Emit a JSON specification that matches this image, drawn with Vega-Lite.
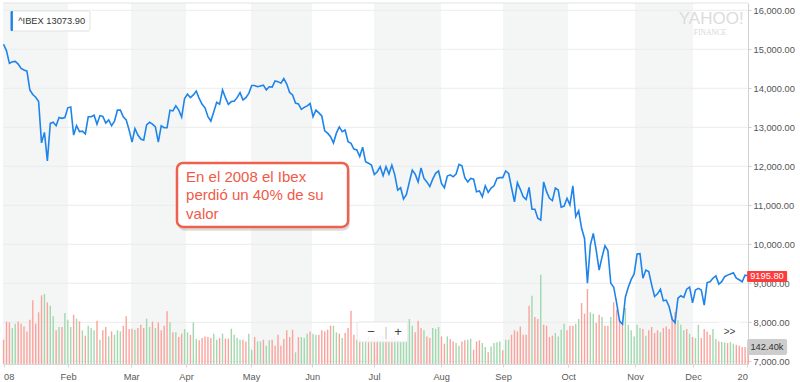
{
"$schema": "https://vega.github.io/schema/vega-lite/v6.json",
"width": 745, "height": 361,
"autosize": {"type": "none"},
"padding": {"left": 3, "top": 3, "right": 52, "bottom": 18},
"background": "white",
"config": {"view": {"stroke": null}, "font": "Liberation Sans"},
"resolve": {"scale": {"y": "independent", "color": "independent"}, "axis": {"y": "independent"}},
"datasets": {
"months": [{"m":"Jan","a":-0.2,"b":22.1},{"m":"Mar","a":43.7,"b":62.5},{"m":"May","a":84.8,"b":105.7},{"m":"Jul","a":126.9,"b":149.9},{"m":"Sep","a":171.1,"b":193.4},{"m":"Nov","a":216.3,"b":236.2}],
"grid": [{"g":7000},{"g":8000},{"g":9000},{"g":10000},{"g":11000},{"g":12000},{"g":13000},{"g":14000},{"g":15000},{"g":16000}],
"ibex": [
{"d":0,"c":15130,"v":204,"s":"d"},{"d":1,"c":14960,"v":356,"s":"d"},{"d":2,"c":14640,"v":350,"s":"d"},{"d":3,"c":14680,"v":302,"s":"u"},{"d":4,"c":14690,"v":339,"s":"u"},{"d":5,"c":14620,"v":356,"s":"d"},{"d":6,"c":14510,"v":339,"s":"d"},{"d":7,"c":14470,"v":316,"s":"d"},{"d":8,"c":14440,"v":274,"s":"d"},{"d":9,"c":13960,"v":372,"s":"d"},
{"d":10,"c":13840,"v":535,"s":"d"},{"d":11,"c":13770,"v":339,"s":"d"},{"d":12,"c":13660,"v":434,"s":"d"},{"d":13,"c":12600,"v":577,"s":"d"},{"d":14,"c":12870,"v":588,"s":"u"},{"d":15,"c":12140,"v":518,"s":"d"},{"d":16,"c":13100,"v":490,"s":"u"},{"d":17,"c":13130,"v":400,"s":"u"},{"d":18,"c":13040,"v":283,"s":"d"},{"d":19,"c":13250,"v":311,"s":"u"},
{"d":20,"c":13230,"v":311,"s":"d"},{"d":21,"c":13250,"v":428,"s":"u"},{"d":22,"c":13500,"v":372,"s":"u"},{"d":23,"c":13520,"v":311,"s":"u"},{"d":24,"c":12800,"v":414,"s":"d"},{"d":25,"c":13040,"v":381,"s":"u"},{"d":26,"c":12890,"v":358,"s":"d"},{"d":27,"c":12900,"v":283,"s":"u"},{"d":28,"c":12830,"v":238,"s":"d"},{"d":29,"c":13270,"v":322,"s":"u"},
{"d":30,"c":13270,"v":302,"s":"u"},{"d":31,"c":13310,"v":283,"s":"u"},{"d":32,"c":13080,"v":364,"s":"d"},{"d":33,"c":13300,"v":204,"s":"u"},{"d":34,"c":13280,"v":283,"s":"d"},{"d":35,"c":13110,"v":311,"s":"d"},{"d":36,"c":13190,"v":232,"s":"u"},{"d":37,"c":13040,"v":274,"s":"d"},{"d":38,"c":13160,"v":246,"s":"u"},{"d":39,"c":13440,"v":283,"s":"u"},
{"d":40,"c":13440,"v":274,"s":"u"},{"d":41,"c":13270,"v":322,"s":"d"},{"d":42,"c":13190,"v":400,"s":"d"},{"d":43,"c":12930,"v":294,"s":"d"},{"d":44,"c":12620,"v":297,"s":"d"},{"d":45,"c":12970,"v":288,"s":"u"},{"d":46,"c":12800,"v":302,"s":"d"},{"d":47,"c":12700,"v":330,"s":"d"},{"d":48,"c":12670,"v":302,"s":"d"},{"d":49,"c":13060,"v":381,"s":"u"},
{"d":50,"c":13130,"v":311,"s":"u"},{"d":51,"c":13080,"v":356,"s":"d"},{"d":52,"c":13010,"v":302,"s":"u"},{"d":53,"c":12620,"v":350,"s":"d"},{"d":54,"c":13040,"v":283,"s":"d"},{"d":55,"c":12990,"v":322,"s":"d"},{"d":56,"c":12990,"v":442,"s":"d"},{"d":57,"c":13440,"v":350,"s":"u"},{"d":58,"c":13420,"v":266,"s":"d"},{"d":59,"c":13550,"v":266,"s":"u"},
{"d":60,"c":13440,"v":227,"s":"d"},{"d":61,"c":13260,"v":255,"s":"d"},{"d":62,"c":13740,"v":294,"s":"u"},{"d":63,"c":13850,"v":266,"s":"u"},{"d":64,"c":13760,"v":246,"s":"d"},{"d":65,"c":13830,"v":350,"s":"u"},{"d":66,"c":13930,"v":210,"s":"u"},{"d":67,"c":13740,"v":199,"s":"d"},{"d":68,"c":13590,"v":218,"s":"d"},{"d":69,"c":13500,"v":232,"s":"d"},
{"d":70,"c":13270,"v":227,"s":"d"},{"d":71,"c":13160,"v":218,"s":"d"},{"d":72,"c":13400,"v":255,"s":"u"},{"d":73,"c":13640,"v":204,"s":"u"},{"d":74,"c":13590,"v":218,"s":"d"},{"d":75,"c":13960,"v":255,"s":"u"},{"d":76,"c":13760,"v":213,"s":"d"},{"d":77,"c":13590,"v":213,"s":"d"},{"d":78,"c":13660,"v":297,"s":"u"},{"d":79,"c":13670,"v":246,"s":"u"},
{"d":80,"c":13760,"v":218,"s":"u"},{"d":81,"c":13890,"v":204,"s":"u"},{"d":82,"c":13700,"v":204,"s":"d"},{"d":83,"c":13760,"v":190,"s":"d"},{"d":84,"c":13870,"v":255,"s":"u"},{"d":85,"c":14070,"v":120,"s":"u"},{"d":86,"c":14070,"v":227,"s":"d"},{"d":87,"c":14040,"v":190,"s":"u"},{"d":88,"c":14060,"v":190,"s":"u"},{"d":89,"c":14080,"v":204,"s":"d"},
{"d":90,"c":13960,"v":154,"s":"u"},{"d":91,"c":14040,"v":199,"s":"u"},{"d":92,"c":14030,"v":204,"s":"d"},{"d":93,"c":14190,"v":154,"s":"d"},{"d":94,"c":14170,"v":246,"s":"d"},{"d":95,"c":14130,"v":154,"s":"d"},{"d":96,"c":14250,"v":210,"s":"d"},{"d":97,"c":14110,"v":283,"s":"d"},{"d":98,"c":13890,"v":227,"s":"d"},{"d":99,"c":13830,"v":288,"s":"d"},
{"d":100,"c":13620,"v":98,"s":"u"},{"d":101,"c":13600,"v":227,"s":"d"},{"d":102,"c":13460,"v":227,"s":"u"},{"d":103,"c":13510,"v":218,"s":"u"},{"d":104,"c":13550,"v":255,"s":"u"},{"d":105,"c":13610,"v":274,"s":"d"},{"d":106,"c":13270,"v":255,"s":"u"},{"d":107,"c":13440,"v":246,"s":"u"},{"d":108,"c":13370,"v":246,"s":"d"},{"d":109,"c":13290,"v":283,"s":"d"},
{"d":110,"c":12910,"v":274,"s":"d"},{"d":111,"c":12850,"v":288,"s":"d"},{"d":112,"c":12760,"v":322,"s":"d"},{"d":113,"c":12600,"v":322,"s":"u"},{"d":114,"c":12850,"v":266,"s":"u"},{"d":115,"c":13010,"v":255,"s":"d"},{"d":116,"c":12890,"v":218,"s":"u"},{"d":117,"c":12930,"v":260,"s":"d"},{"d":118,"c":12630,"v":302,"s":"d"},{"d":119,"c":12590,"v":448,"s":"d"},
{"d":120,"c":12440,"v":246,"s":"d"},{"d":121,"c":12420,"v":204,"s":"u"},{"d":122,"c":12250,"v":218,"s":"d"},{"d":123,"c":12490,"v":190,"s":"u"},{"d":124,"c":12120,"v":210,"s":"u"},{"d":125,"c":12080,"v":232,"s":"d"},{"d":126,"c":12030,"v":199,"s":"u"},{"d":127,"c":11790,"v":216,"s":"d"},{"d":128,"c":11860,"v":227,"s":"d"},{"d":129,"c":11990,"v":204,"s":"u"},
{"d":130,"c":11760,"v":238,"s":"u"},{"d":131,"c":11990,"v":216,"s":"d"},{"d":132,"c":11800,"v":204,"s":"u"},{"d":133,"c":12030,"v":221,"s":"d"},{"d":134,"c":11780,"v":232,"s":"u"},{"d":135,"c":11390,"v":210,"s":"u"},{"d":136,"c":11450,"v":190,"s":"u"},{"d":137,"c":11160,"v":190,"s":"u"},{"d":138,"c":11280,"v":190,"s":"u"},{"d":139,"c":11600,"v":378,"s":"u"},
{"d":140,"c":11900,"v":322,"s":"u"},{"d":141,"c":11800,"v":266,"s":"d"},{"d":142,"c":11600,"v":364,"s":"d"},{"d":143,"c":11960,"v":302,"s":"d"},{"d":144,"c":11690,"v":283,"s":"u"},{"d":145,"c":11600,"v":232,"s":"d"},{"d":146,"c":11480,"v":218,"s":"d"},{"d":147,"c":11670,"v":302,"s":"u"},{"d":148,"c":11820,"v":294,"s":"u"},{"d":149,"c":11880,"v":311,"s":"u"},
{"d":150,"c":11560,"v":232,"s":"d"},{"d":151,"c":11450,"v":171,"s":"d"},{"d":152,"c":11750,"v":232,"s":"u"},{"d":153,"c":11780,"v":210,"s":"d"},{"d":154,"c":11730,"v":190,"s":"d"},{"d":155,"c":11800,"v":176,"s":"u"},{"d":156,"c":12050,"v":154,"s":"u"},{"d":157,"c":12010,"v":190,"s":"d"},{"d":158,"c":11710,"v":199,"s":"d"},{"d":159,"c":11600,"v":204,"s":"u"},
{"d":160,"c":11690,"v":213,"s":"u"},{"d":161,"c":11670,"v":120,"s":"d"},{"d":162,"c":11350,"v":190,"s":"d"},{"d":163,"c":11370,"v":199,"s":"d"},{"d":164,"c":11220,"v":176,"s":"u"},{"d":165,"c":11500,"v":143,"s":"u"},{"d":166,"c":11330,"v":98,"s":"d"},{"d":167,"c":11440,"v":148,"s":"u"},{"d":168,"c":11500,"v":176,"s":"u"},{"d":169,"c":11690,"v":182,"s":"u"},
{"d":170,"c":11710,"v":190,"s":"u"},{"d":171,"c":11710,"v":115,"s":"d"},{"d":172,"c":11880,"v":204,"s":"u"},{"d":173,"c":11820,"v":204,"s":"u"},{"d":174,"c":11450,"v":246,"s":"d"},{"d":175,"c":11090,"v":283,"s":"d"},{"d":176,"c":11580,"v":274,"s":"d"},{"d":177,"c":11410,"v":316,"s":"d"},{"d":178,"c":11220,"v":246,"s":"d"},{"d":179,"c":11150,"v":246,"s":"d"},
{"d":180,"c":11460,"v":490,"s":"d"},{"d":181,"c":10900,"v":574,"s":"u"},{"d":182,"c":10900,"v":395,"s":"d"},{"d":183,"c":10670,"v":378,"s":"d"},{"d":184,"c":10620,"v":750,"s":"u"},{"d":185,"c":11600,"v":330,"s":"d"},{"d":186,"c":11350,"v":322,"s":"d"},{"d":187,"c":11180,"v":227,"s":"d"},{"d":188,"c":11120,"v":238,"s":"d"},{"d":189,"c":11440,"v":260,"s":"u"},
{"d":190,"c":11390,"v":232,"s":"u"},{"d":191,"c":10950,"v":288,"s":"u"},{"d":192,"c":10980,"v":339,"s":"u"},{"d":193,"c":11180,"v":283,"s":"d"},{"d":194,"c":11010,"v":322,"s":"d"},{"d":195,"c":11500,"v":322,"s":"d"},{"d":196,"c":10710,"v":339,"s":"u"},{"d":197,"c":10860,"v":378,"s":"u"},{"d":198,"c":10410,"v":512,"s":"d"},{"d":199,"c":10150,"v":423,"s":"d"},
{"d":200,"c":9000,"v":630,"s":"d"},{"d":201,"c":9980,"v":434,"s":"u"},{"d":202,"c":10280,"v":423,"s":"u"},{"d":203,"c":9850,"v":344,"s":"d"},{"d":204,"c":9340,"v":414,"s":"d"},{"d":205,"c":9670,"v":395,"s":"u"},{"d":206,"c":9960,"v":322,"s":"d"},{"d":207,"c":9840,"v":322,"s":"d"},{"d":208,"c":9000,"v":395,"s":"u"},{"d":209,"c":8900,"v":518,"s":"d"},
{"d":210,"c":8500,"v":456,"s":"d"},{"d":211,"c":8030,"v":378,"s":"d"},{"d":212,"c":7950,"v":344,"s":"d"},{"d":213,"c":8650,"v":470,"s":"u"},{"d":214,"c":8900,"v":330,"s":"u"},{"d":215,"c":9100,"v":283,"s":"u"},{"d":216,"c":9240,"v":232,"s":"u"},{"d":217,"c":9750,"v":330,"s":"u"},{"d":218,"c":9760,"v":302,"s":"u"},{"d":219,"c":9130,"v":294,"s":"d"},
{"d":220,"c":9340,"v":238,"s":"u"},{"d":221,"c":9300,"v":283,"s":"d"},{"d":222,"c":8960,"v":311,"s":"d"},{"d":223,"c":8660,"v":260,"s":"d"},{"d":224,"c":8730,"v":283,"s":"d"},{"d":225,"c":8850,"v":266,"s":"u"},{"d":226,"c":8550,"v":302,"s":"d"},{"d":227,"c":8570,"v":316,"s":"d"},{"d":228,"c":8400,"v":294,"s":"d"},{"d":229,"c":8080,"v":400,"s":"d"},
{"d":230,"c":7990,"v":434,"s":"d"},{"d":231,"c":8620,"v":367,"s":"u"},{"d":232,"c":8680,"v":330,"s":"u"},{"d":233,"c":8640,"v":283,"s":"u"},{"d":234,"c":8850,"v":294,"s":"d"},{"d":235,"c":8900,"v":255,"s":"u"},{"d":236,"c":8500,"v":227,"s":"d"},{"d":237,"c":8830,"v":218,"s":"u"},{"d":238,"c":8870,"v":330,"s":"u"},{"d":239,"c":8830,"v":218,"s":"d"},
{"d":240,"c":8440,"v":294,"s":"d"},{"d":241,"c":9020,"v":274,"s":"d"},{"d":242,"c":9040,"v":246,"s":"d"},{"d":243,"c":9130,"v":294,"s":"u"},{"d":244,"c":9190,"v":210,"s":"u"},{"d":245,"c":8980,"v":204,"s":"d"},{"d":246,"c":9040,"v":190,"s":"u"},{"d":247,"c":9170,"v":182,"s":"u"},{"d":248,"c":9210,"v":176,"s":"d"},{"d":249,"c":9240,"v":190,"s":"u"},
{"d":250,"c":9270,"v":171,"s":"u"},{"d":251,"c":9130,"v":162,"s":"d"},{"d":252,"c":9090,"v":154,"s":"d"},{"d":253,"c":9040,"v":143,"s":"d"},{"d":254,"c":9210,"v":143,"s":"d"},{"d":255,"c":9195.8,"v":142.4,"s":"d"}
]
},
"layer": [
{"data": {"name": "months"}, "mark": {"type": "rect", "color": "#f4f6f6"},
 "encoding": {
  "x": {"field": "a", "type": "quantitative", "scale": {"domain": [-0.2, 255], "nice": false, "zero": false}, "title": null,
   "axis": {"orient": "bottom", "values": [0, 22.1, 43.7, 62.5, 84.8, 105.7, 126.9, 149.9, 171.1, 193.4, 216.3, 236.2, 254.8],
    "labelExpr": "datum.value < 10 ? '08' : datum.value < 30 ? 'Feb' : datum.value < 50 ? 'Mar' : datum.value < 70 ? 'Apr' : datum.value < 90 ? 'May' : datum.value < 110 ? 'Jun' : datum.value < 140 ? 'Jul' : datum.value < 160 ? 'Aug' : datum.value < 180 ? 'Sep' : datum.value < 200 ? 'Oct' : datum.value < 225 ? 'Nov' : datum.value < 245 ? 'Dec' : '20'",
    "labelFlush": 12, "labelOverlap": false, "grid": false, "domainColor": "#d9d9d9", "tickColor": "#d6d6d6", "tickSize": 3, "zindex": 1,
    "labelFontSize": 9.3, "labelColor": "#5a5a5a", "labelPadding": 5}},
  "x2": {"field": "b"}}},
{"data": {"name": "grid"}, "mark": {"type": "rule", "color": "#ececec", "strokeWidth": 1},
 "encoding": {"y": {"field": "g", "type": "quantitative", "scale": {"domain": [6931, 16187], "nice": false, "zero": false}, "axis": null}}},
{"data": {"values": [{}]}, "mark": {"type": "rule", "color": "#e2e2e2", "strokeWidth": 1},
 "encoding": {"y": {"datum": 16187, "type": "quantitative", "scale": {"domain": [6931, 16187], "nice": false, "zero": false}, "axis": null}}},
{"data": {"name": "ibex"}, "mark": {"type": "rule", "strokeWidth": 1.4},
 "encoding": {
  "x": {"field": "d", "type": "quantitative", "scale": {"domain": [-0.2, 255], "nice": false, "zero": false}},
  "y": {"field": "v", "type": "quantitative", "scale": {"domain": [0, 3032], "nice": false, "zero": true}, "axis": null},
  "y2": {"datum": 0},
  "color": {"field": "s", "type": "nominal", "scale": {"domain": ["u", "d"], "range": ["#a1d8ae", "#fca29c"]}, "legend": null}}},
{"data": {"name": "ibex"}, "mark": {"type": "line", "color": "#1e84ea", "strokeWidth": 1.6},
 "encoding": {
  "x": {"field": "d", "type": "quantitative", "scale": {"domain": [-0.2, 255], "nice": false, "zero": false}},
  "y": {"field": "c", "type": "quantitative", "scale": {"domain": [6931, 16187], "nice": false, "zero": false},
   "axis": {"orient": "right", "title": null, "values": [7000, 8000, 9000, 10000, 11000, 12000, 13000, 14000, 15000, 16000], "format": ",.2f",
    "grid": false, "domainColor": "#d0d0d0", "tickColor": "#d0d0d0", "tickSize": 3, "labelPadding": 2, "labelFontSize": 9.3, "labelColor": "#555555"}}}},
{"data": {"values": [{}]}, "mark": {"type": "rect", "fill": "#9a9a9a", "opacity": 0.35, "cornerRadius": 7},
 "encoding": {
  "x": {"datum": 59.7, "type": "quantitative"},
  "x2": {"datum": 118.6},
  "y": {"datum": 12030, "type": "quantitative", "scale": {"domain": [6931, 16187], "nice": false, "zero": false}, "axis": null},
  "y2": {"datum": 10350}}},
{"data": {"values": [{}]}, "mark": {"type": "rect", "fill": "white", "stroke": "#f0604e", "strokeWidth": 2.5, "cornerRadius": 6},
 "encoding": {
  "x": {"datum": 59.4, "type": "quantitative"},
  "x2": {"datum": 118.0},
  "y": {"datum": 12085, "type": "quantitative", "scale": {"domain": [6931, 16187], "nice": false, "zero": false}, "axis": null},
  "y2": {"datum": 10444}}},
{"data": {"values": [{}]}, "mark": {"type": "text", "align": "left", "baseline": "alphabetic", "fontSize": 15, "lineHeight": 18.5, "color": "#f15a48"},
 "encoding": {
  "x": {"datum": 62.5, "type": "quantitative"},
  "y": {"datum": 11605, "type": "quantitative", "scale": {"domain": [6931, 16187], "nice": false, "zero": false}, "axis": null},
  "text": {"value": ["En el 2008 el Ibex", "perdió un 40% de su", "valor"]}}},
{"data": {"values": [{}]}, "mark": {"type": "rect", "fill": "white", "stroke": "#e0e0e0", "strokeWidth": 1, "cornerRadius": 2},
 "encoding": {
  "x": {"datum": 2.4, "type": "quantitative"},
  "x2": {"datum": 29.6},
  "y": {"datum": 15982, "type": "quantitative", "scale": {"domain": [6931, 16187], "nice": false, "zero": false}, "axis": null},
  "y2": {"datum": 15469}}},
{"data": {"values": [{}]}, "mark": {"type": "rect", "fill": "#1e84ea", "cornerRadius": 1},
 "encoding": {
  "x": {"datum": 2.4, "type": "quantitative"},
  "x2": {"datum": 3.2},
  "y": {"datum": 15982, "type": "quantitative", "scale": {"domain": [6931, 16187], "nice": false, "zero": false}, "axis": null},
  "y2": {"datum": 15469}}},
{"data": {"values": [{}]}, "mark": {"type": "text", "align": "left", "baseline": "middle", "fontSize": 9.3, "color": "#333333"},
 "encoding": {
  "x": {"datum": 5.0, "type": "quantitative"},
  "y": {"datum": 15713, "type": "quantitative", "scale": {"domain": [6931, 16187], "nice": false, "zero": false}, "axis": null},
  "text": {"value": "^IBEX  13073.90"}}},
{"data": {"values": [{}]}, "mark": {"type": "text", "align": "center", "baseline": "alphabetic", "fontSize": 17, "color": "#dcdcdc", "font": "Liberation Sans Narrow, Liberation Sans"},
 "encoding": {
  "x": {"datum": 242.4, "type": "quantitative"},
  "y": {"datum": 15650, "type": "quantitative", "scale": {"domain": [6931, 16187], "nice": false, "zero": false}, "axis": null},
  "text": {"value": "YAHOO!"}}},
{"data": {"values": [{}]}, "mark": {"type": "text", "align": "center", "baseline": "alphabetic", "fontSize": 7.5, "color": "#d6d6d6", "font": "Liberation Serif"},
 "encoding": {
  "x": {"datum": 242.0, "type": "quantitative"},
  "y": {"datum": 15370, "type": "quantitative", "scale": {"domain": [6931, 16187], "nice": false, "zero": false}, "axis": null},
  "text": {"value": "FINANCE"}}},
{"data": {"values": [{}]}, "mark": {"type": "rect", "fill": "white", "fillOpacity": 0.85, "stroke": "#e6e6e6", "strokeWidth": 1, "cornerRadius": 2},
 "encoding": {
  "x": {"datum": 121.1, "type": "quantitative"},
  "x2": {"datum": 138.5},
  "y": {"datum": 8008, "type": "quantitative", "scale": {"domain": [6931, 16187], "nice": false, "zero": false}, "axis": null},
  "y2": {"datum": 7495}}},
{"data": {"values": [{"t": "−", "p": 125.9}, {"t": "|", "p": 131.0}, {"t": "+", "p": 135.1}]}, "mark": {"type": "text", "align": "center", "baseline": "middle", "fontSize": 13},
 "encoding": {
  "x": {"field": "p", "type": "quantitative"},
  "y": {"datum": 7752, "type": "quantitative", "scale": {"domain": [6931, 16187], "nice": false, "zero": false}, "axis": null},
  "text": {"field": "t"},
  "color": {"condition": {"test": "datum.t === '|'", "value": "#cccccc"}, "value": "#444444"}}},
{"data": {"values": [{}]}, "mark": {"type": "rect", "fill": "white", "fillOpacity": 0.85, "cornerRadius": 2},
 "encoding": {
  "x": {"datum": 244.7, "type": "quantitative"},
  "x2": {"datum": 252.6},
  "y": {"datum": 8008, "type": "quantitative", "scale": {"domain": [6931, 16187], "nice": false, "zero": false}, "axis": null},
  "y2": {"datum": 7495}}},
{"data": {"values": [{}]}, "mark": {"type": "text", "align": "center", "baseline": "middle", "fontSize": 10, "color": "#444444"},
 "encoding": {
  "x": {"datum": 248.7, "type": "quantitative"},
  "y": {"datum": 7752, "type": "quantitative", "scale": {"domain": [6931, 16187], "nice": false, "zero": false}, "axis": null},
  "text": {"value": ">>"}}},
{"data": {"values": [{}]}, "mark": {"type": "rect", "fill": "#ff3b3b", "cornerRadius": 1},
 "encoding": {
  "x": {"datum": 254.7, "type": "quantitative"},
  "x2": {"datum": 268.4},
  "y": {"datum": 9316, "type": "quantitative", "scale": {"domain": [6931, 16187], "nice": false, "zero": false}, "axis": null},
  "y2": {"datum": 9034}}},
{"data": {"values": [{}]}, "mark": {"type": "text", "align": "center", "baseline": "middle", "fontSize": 9.3, "color": "white"},
 "encoding": {
  "x": {"datum": 261.5, "type": "quantitative"},
  "y": {"datum": 9175, "type": "quantitative", "scale": {"domain": [6931, 16187], "nice": false, "zero": false}, "axis": null},
  "text": {"value": "9195.80"}}},
{"data": {"values": [{}]}, "mark": {"type": "rect", "fill": "#cdcdcd", "cornerRadius": 2},
 "encoding": {
  "x": {"datum": 254.7, "type": "quantitative"},
  "x2": {"datum": 268.4},
  "y": {"datum": 7572, "type": "quantitative", "scale": {"domain": [6931, 16187], "nice": false, "zero": false}, "axis": null},
  "y2": {"datum": 7162}}},
{"data": {"values": [{}]}, "mark": {"type": "text", "align": "center", "baseline": "middle", "fontSize": 9.3, "color": "#333333"},
 "encoding": {
  "x": {"datum": 261.5, "type": "quantitative"},
  "y": {"datum": 7367, "type": "quantitative", "scale": {"domain": [6931, 16187], "nice": false, "zero": false}, "axis": null},
  "text": {"value": "142.40k"}}}
]
}
